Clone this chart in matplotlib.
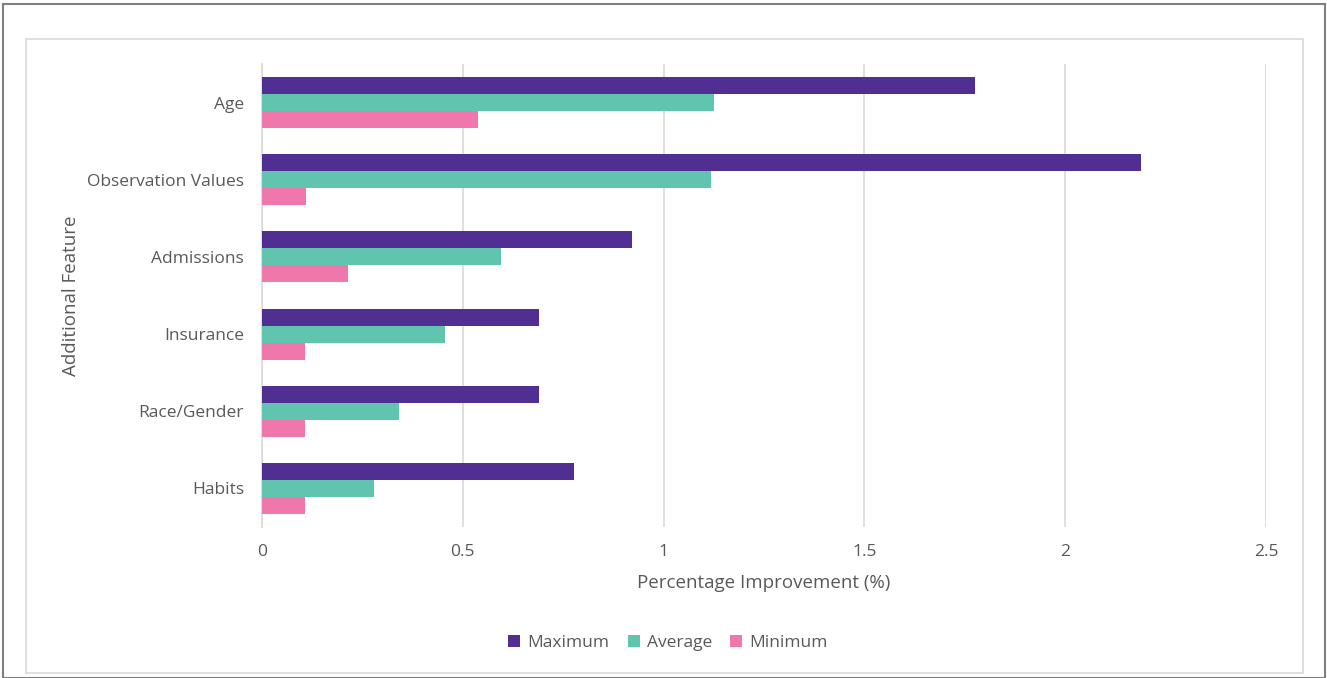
import numpy as np
import matplotlib.pyplot as plt
from matplotlib.patches import Rectangle

plt.rcParams['font.family'] = ['Open Sans', 'DejaVu Sans']

#====================
# Data
#====================
features = ['Age', 'Observation Values', 'Admissions', 'Insurance', 'Race/Gender', 'Habits']
maximum = [1.775, 2.189, 0.921, 0.690, 0.690, 0.777]
average = [1.125, 1.118, 0.595, 0.456, 0.341, 0.279]
minimum = [0.538, 0.110, 0.214, 0.107, 0.107, 0.107]
xticks = [0, 0.5, 1, 1.5, 2, 2.5]
xtick_labels = ['0', '0.5', '1', '1.5', '2', '2.5']

series = [('Maximum', maximum, '#512e92'),
          ('Average', average, '#60c4ae'),
          ('Minimum', minimum, '#f077ab')]

txt = '#595959'

#====================
# Figure
#====================
fig = plt.figure(figsize=(13.27, 6.78), dpi=100)
W, H = 1327, 678

# outer frame and inner chart border
fig.patches.append(Rectangle((3 / W, 0), 1322 / W, 1 - 4 / H, transform=fig.transFigure,
                             fill=False, edgecolor='#7f7f7f', linewidth=1.5))
fig.patches.append(Rectangle((26 / W, 1 - 673 / H), 1277 / W, 634 / H, transform=fig.transFigure,
                             fill=False, edgecolor='#d9d9d9', linewidth=1.2))

ax = fig.add_axes([262 / W, 1 - 527 / H, 1004 / W, 463 / H])

y = np.arange(len(features))
h = 0.22
for i, (name, vals, col) in enumerate(series):
    ax.barh(y + (i - 1) * h, vals, height=h, color=col, label=name, zorder=3)

ax.set_ylim(len(features) - 0.5, -0.5)
ax.set_xlim(0, 2.5)
ax.set_yticks(y)
ax.set_yticklabels(features)
ax.set_xticks(xticks)
ax.set_xticklabels(xtick_labels)
ax.tick_params(axis='both', length=0, labelsize=12.5, colors=txt)
ax.tick_params(axis='x', pad=12)
ax.tick_params(axis='y', pad=13)
ax.grid(axis='x', color='#d9d9d9', linewidth=1.2, zorder=0)
for s in ['top', 'right', 'bottom']:
    ax.spines[s].set_visible(False)
ax.spines['left'].set_color('#d9d9d9')
ax.spines['left'].set_linewidth(1.2)

ax.set_xlabel('Percentage Improvement (%)', fontsize=13.5, color=txt, labelpad=10)
ax.set_ylabel('Additional Feature', fontsize=13.5, color=txt, labelpad=5)

fig.legend(loc='center', bbox_to_anchor=(668 / W, 1 - 643 / H), ncol=3, frameon=False,
           fontsize=12.5, labelcolor=txt, handlelength=0.7, handleheight=0.7,
           handletextpad=0.4, columnspacing=1.05)

fig.savefig('out.png', dpi=100)
